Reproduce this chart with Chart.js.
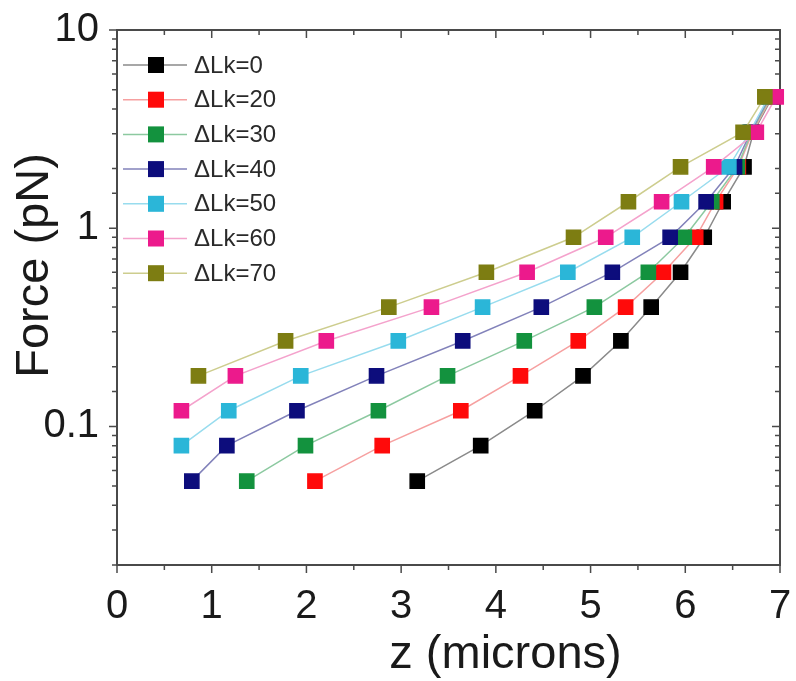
<!DOCTYPE html>
<html>
<head>
<meta charset="utf-8">
<script src="https://cdn.jsdelivr.net/npm/chart.js@4.4.1/dist/chart.umd.min.js"></script>
<style>
  html, body { margin: 0; padding: 0; background: #fff; }
  #wrap { width: 796px; height: 681px; }
</style>
</head>
<body>
<div id="wrap"><canvas id="forceChart" width="796" height="681"></canvas></div>
<script>
// extension z (microns) and force (pN) for each linking number change
const seriesLabels = ['ΔLk=0', 'ΔLk=20', 'ΔLk=30', 'ΔLk=40', 'ΔLk=50', 'ΔLk=60', 'ΔLk=70'];

const zLk0  = [3.17, 3.84, 4.41, 4.92, 5.32, 5.64, 5.95, 6.20, 6.40, 6.62, 6.72, 6.92];
const fLk0  = [0.053, 0.08, 0.12, 0.18, 0.27, 0.40, 0.60, 0.90, 1.36, 2.04, 3.05, 4.6];
const zLk20 = [2.09, 2.80, 3.63, 4.26, 4.87, 5.37, 5.77, 6.11, 6.32, 6.56, 6.71, 6.91];
const fLk20 = [0.053, 0.08, 0.12, 0.18, 0.27, 0.40, 0.60, 0.90, 1.36, 2.04, 3.05, 4.6];
const zLk30 = [1.37, 1.99, 2.76, 3.49, 4.30, 5.04, 5.61, 5.99, 6.28, 6.55, 6.70, 6.90];
const fLk30 = [0.053, 0.08, 0.12, 0.18, 0.27, 0.40, 0.60, 0.90, 1.36, 2.04, 3.05, 4.6];
const zLk40 = [0.79, 1.16, 1.90, 2.74, 3.65, 4.48, 5.23, 5.84, 6.22, 6.52, 6.69, 6.89];
const fLk40 = [0.053, 0.08, 0.12, 0.18, 0.27, 0.40, 0.60, 0.90, 1.36, 2.04, 3.05, 4.6];
const zLk50 = [0.68, 1.18, 1.94, 2.97, 3.86, 4.76, 5.44, 5.96, 6.46, 6.68, 6.88];
const fLk50 = [0.08, 0.12, 0.18, 0.27, 0.40, 0.60, 0.90, 1.36, 2.04, 3.05, 4.6];
const zLk60 = [0.68, 1.25, 2.21, 3.32, 4.33, 5.16, 5.75, 6.30, 6.75, 6.96];
const fLk60 = [0.12, 0.18, 0.27, 0.40, 0.60, 0.90, 1.36, 2.04, 3.05, 4.6];
const zLk70 = [0.86, 1.78, 2.87, 3.90, 4.82, 5.40, 5.95, 6.61, 6.84];
const fLk70 = [0.18, 0.27, 0.40, 0.60, 0.90, 1.36, 2.04, 3.05, 4.6];

const zSeries = [zLk0, zLk20, zLk30, zLk40, zLk50, zLk60, zLk70];
const fSeries = [fLk0, fLk20, fLk30, fLk40, fLk50, fLk60, fLk70];

const markerColors = ['#000000', '#ff0a0a', '#13923e', '#0d0d7c', '#2bb6d8', '#ec1a8c', '#7d7d12'];
const lineColors   = ['#8a8a8a', '#f6a0a0', '#8cc9a0', '#8282ba', '#98dcee', '#f4a2cc', '#cdcd8e'];

const yMajor = [0.1, 1, 10];
const FONT = '"Liberation Sans", Arial, sans-serif';

const datasets = seriesLabels.map((label, i) => ({
    label: label,
    data: zSeries[i].map((z, j) => ({ x: z, y: fSeries[i][j] })),
    borderColor: lineColors[i],
    borderWidth: 1.5,
    pointStyle: 'rect',
    pointRadius: 10,
    pointBorderWidth: 1.5,
    pointBackgroundColor: markerColors[i],
    pointBorderColor: markerColors[i],
    order: seriesLabels.length - 1 - i,
    clip: false
}));

// box around the plot with ticks on all four sides
const frameTicks = {
    id: 'frameTicks',
    beforeDatasetsDraw(chart) {
        const { ctx, chartArea: a, scales: { x, y } } = chart;
        ctx.save();
        ctx.strokeStyle = '#4a4a4a';
        ctx.lineWidth = 2;
        ctx.strokeRect(a.left, a.top, a.right - a.left, a.bottom - a.top);
        ctx.lineWidth = 1.5;
        ctx.beginPath();
        x.ticks.forEach(t => {
            const px = x.getPixelForValue(t.value);
            const len = Number.isInteger(t.value) ? 8 : 5;
            ctx.moveTo(px, a.bottom); ctx.lineTo(px, a.bottom + len);
            ctx.moveTo(px, a.top); ctx.lineTo(px, a.top + len);
        });
        y.ticks.forEach(t => {
            const py = y.getPixelForValue(t.value);
            const len = yMajor.includes(t.value) ? 8 : 5;
            ctx.moveTo(a.left, py); ctx.lineTo(a.left - len, py);
            ctx.moveTo(a.right, py); ctx.lineTo(a.right - len, py);
        });
        ctx.stroke();
        ctx.restore();
    }
};

// legend drawn inside the top-left corner of the plot
const insetLegend = {
    id: 'insetLegend',
    afterDraw(chart) {
        const { ctx, chartArea: a } = chart;
        ctx.save();
        ctx.font = '24px ' + FONT;
        ctx.textBaseline = 'middle';
        chart.data.datasets.forEach((ds, i) => {
            const yy = a.top + 35 + i * 34.7;
            const x0 = a.left + 6;
            ctx.strokeStyle = ds.borderColor;
            ctx.lineWidth = 1.5;
            ctx.beginPath();
            ctx.moveTo(x0, yy);
            ctx.lineTo(x0 + 64, yy);
            ctx.stroke();
            ctx.fillStyle = ds.pointBackgroundColor;
            ctx.fillRect(x0 + 25, yy - 8, 16, 16);
            ctx.fillStyle = '#2a2a2a';
            ctx.fillText(ds.label, x0 + 71, yy + 1);
        });
        ctx.restore();
    }
};

// axis titles, placed a little off centre as in the figure
const axisTitles = {
    id: 'axisTitles',
    afterDraw(chart) {
        const { ctx, chartArea: a } = chart;
        ctx.save();
        ctx.font = '47px ' + FONT;
        ctx.fillStyle = '#1a1a1a';
        ctx.textAlign = 'center';
        ctx.textBaseline = 'middle';
        ctx.fillText('z (microns)', (a.left + a.right) / 2 + 57, a.bottom + 90);
        ctx.translate(35, (a.top + a.bottom) / 2 - 32);
        ctx.rotate(-Math.PI / 2);
        ctx.fillText('Force (pN)', 0, 0);
        ctx.restore();
    }
};

const ctx = document.getElementById('forceChart').getContext('2d');
const forceChart = new Chart(ctx, {
    type: 'line',
    data: { datasets: datasets },
    options: {
        responsive: false,
        animation: false,
        layout: { padding: { top: 30, right: 16, left: 0, bottom: 0 } },
        plugins: {
            legend: { display: false },
            tooltip: { enabled: false }
        },
        scales: {
            x: {
                type: 'linear',
                min: 0,
                max: 7,
                grid: { display: false },
                border: { display: false },
                ticks: {
                    stepSize: 0.5,
                    autoSkip: false,
                    maxRotation: 0,
                    padding: 10,
                    color: '#1a1a1a',
                    font: { family: FONT, size: 40 },
                    callback: v => Number.isInteger(v) ? String(v) : ''
                },
                afterFit: s => {
                    s.height = 116;
                    s.paddingLeft = 0;
                    s.paddingRight = 0;
                }
            },
            y: {
                type: 'logarithmic',
                min: 0.02,
                max: 10,
                grid: { display: false },
                border: { display: false },
                ticks: {
                    autoSkip: false,
                    padding: 10,
                    color: '#1a1a1a',
                    font: { family: FONT, size: 40 },
                    callback: v => yMajor.includes(v) ? String(v) : ''
                },
                afterFit: s => {
                    s.width = 117;
                    s.paddingTop = 0;
                    s.paddingBottom = 0;
                }
            }
        }
    },
    plugins: [frameTicks, insetLegend, axisTitles]
});
</script>
</body>
</html>
